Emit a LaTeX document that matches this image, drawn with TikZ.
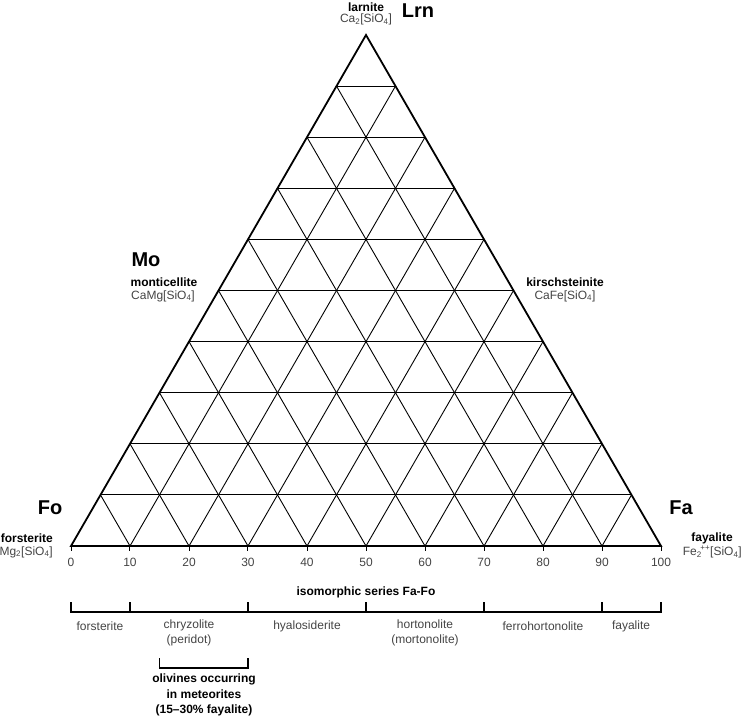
\documentclass[tikz,border=0pt]{standalone}
\usepackage{fontspec}
\setmainfont{Liberation Sans}
\usetikzlibrary{calc}
\definecolor{txtgray}{HTML}{444444}
\newcommand{\fs}[1]{\fontsize{#1}{#1}\selectfont}
\begin{document}
\begin{tikzpicture}[x=1pt,y=-1pt,
  biglbl/.style={font=\fs{20}\bfseries,inner sep=0pt},
  boldlbl/.style={font=\fs{12}\bfseries,inner sep=0pt},
  formula/.style={font=\fs{12},text=txtgray,inner sep=0pt},
  ticklab/.style={font=\fs{12},text=txtgray,inner sep=0pt},
  seglab/.style={font=\fs{12},text=txtgray,inner sep=0pt,align=center},
  gridline/.style={line width=0.9pt},
  outerline/.style={line width=1.8pt,line join=miter},
  bracket/.style={line width=1.8pt,line join=miter}]
\useasboundingbox (0,0) rectangle (743,716);
\coordinate (L) at (71,546);
\coordinate (R) at (661,546);
\coordinate (A) at (366,35);
% grid
\foreach \k in {1,...,9}{
  \draw[gridline] ($(L)!\k/10!(A)$) -- ($(R)!\k/10!(A)$);
  \draw[gridline] ($(L)!\k/10!(R)$) -- ($(R)!{1-\k/10}!(A)$);
  \draw[gridline] ($(L)!\k/10!(R)$) -- ($(L)!\k/10!(A)$);
}
\draw[outerline] (L) -- (R) -- (A) -- cycle;
% ticks and labels
\foreach \k in {0,...,10}{
  \coordinate (t\k) at ($(L)!\k/10!(R)$);
  \draw[line width=1pt] (t\k) -- ++(0,5);
  \pgfmathtruncatemacro{\v}{\k*10}
  \node[ticklab] (tl\k) at ($(t\k)+(0,16)$) {\v};
}
% corner labels
\node[biglbl] (lrn) at (418,11) {Lrn};
\node[boldlbl] (larn) at (366,7) {larnite};
\node[formula] (larnf) at (366,19.5) {Ca\textsubscript{2}[SiO\textsubscript{4}]};
\node[biglbl] (mo) at (146,260) {Mo};
\node[boldlbl] (mont) at (164,282) {monticellite};
\node[formula] (montf) at (163,296) {CaMg[SiO\textsubscript{4}]};
\node[boldlbl] (kir) at (565,282) {kirschsteinite};
\node[formula] (kirf) at (565,296) {CaFe[SiO\textsubscript{4}]};
\node[biglbl] (fo) at (50,508) {Fo};
\node[boldlbl,anchor=east] (fors) at (53,538) {forsterite};
\node[formula,anchor=east] (forsf) at (53,552) {Mg\textsubscript{2}[SiO\textsubscript{4}]};
\node[biglbl] (fa) at (681,508) {Fa};
\node[boldlbl] (fay) at (712,538) {fayalite};
\node[formula,anchor=east] (fayf) at (742,552) {Fe\textsubscript{2}\kern-1.5pt\textsuperscript{++}[SiO\textsubscript{4}]};
% isomorphic series scale
\node[boldlbl] (iso) at (366,592) {isomorphic series Fa-Fo};
\coordinate (s0) at (71,612);
\coordinate (s10) at (130,612);
\coordinate (s30) at (248,612);
\coordinate (s50) at (366,612);
\coordinate (s70) at (484,612);
\coordinate (s90) at (602,612);
\coordinate (s100) at (661,612);
\draw[bracket] ($(s0)+(0,-10)$) -- (s0) -- (s100) -- ++(0,-10);
\foreach \p in {s10,s30,s50,s70,s90}{
  \draw[bracket] (\p) -- ++(0,-10);
}
\node[seglab] (g1) at (100,626) {forsterite};
\node[seglab,anchor=north] (g2) at (189,620) {chryzolite\\[3pt](peridot)};
\node[seglab] (g3) at (307,626) {hyalosiderite};
\node[seglab,anchor=north] (g4) at (425,620) {hortonolite\\[3pt](mortonolite)};
\node[seglab] (g5) at (543,626) {ferrohortonolite};
\node[seglab] (g6) at (631,626) {fayalite};
% meteorites bracket
\coordinate (m15) at (159.5,668);
\coordinate (m30) at (248,668);
\draw[bracket] ($(m15)+(0,-10)$) -- (m15) -- (m30) -- ++(0,-10);
\node[boldlbl,align=center,anchor=north] (met) at (204,674) {olivines occurring\\[3.5pt]in meteorites\\[3.5pt](15--30\% fayalite)};
\end{tikzpicture}
\end{document}
